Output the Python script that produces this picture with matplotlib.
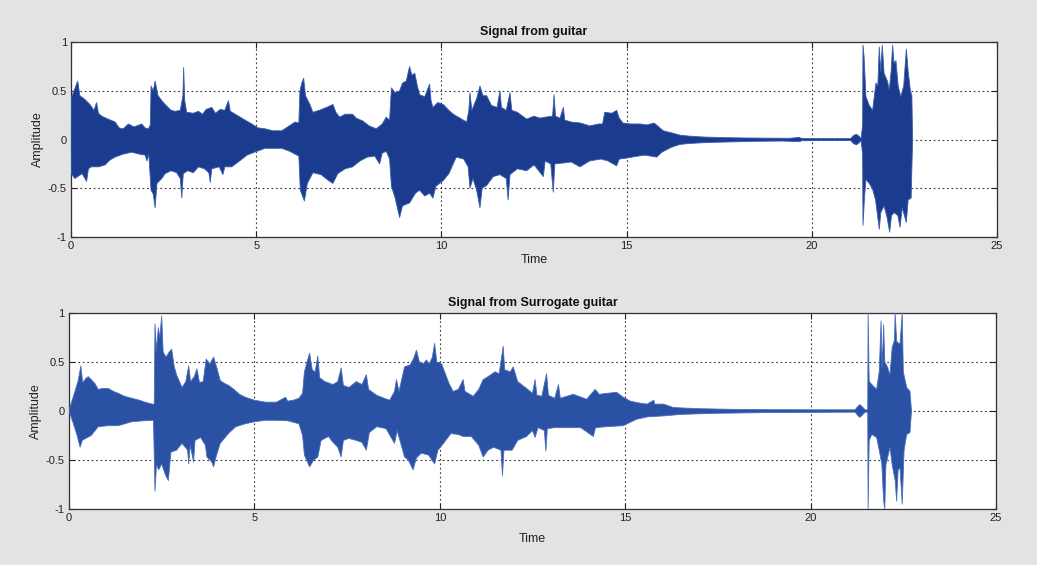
import numpy as np
import matplotlib
matplotlib.use("Agg")
import matplotlib.pyplot as plt

plt.rcParams['font.family'] = ['Liberation Sans', 'DejaVu Sans']

# Amplitude envelopes (time in s, amplitude) of the recorded guitar signal
guitar_upper = [
    (0.00, 0.00), (0.01, 0.43), (0.10, 0.52), (0.18, 0.60), (0.24, 0.45), (0.35, 0.42),
    (0.51, 0.36), (0.62, 0.30), (0.69, 0.38), (0.74, 0.27), (0.83, 0.24), (1.00, 0.21),
    (1.19, 0.18), (1.30, 0.12), (1.41, 0.11), (1.55, 0.16), (1.70, 0.13), (1.91, 0.16),
    (2.00, 0.12), (2.09, 0.11), (2.14, 0.15), (2.16, 0.55), (2.22, 0.50), (2.27, 0.60),
    (2.35, 0.45), (2.45, 0.40), (2.54, 0.36), (2.70, 0.30), (2.81, 0.29), (2.95, 0.30),
    (3.02, 0.45), (3.04, 0.74), (3.07, 0.40), (3.12, 0.28), (3.30, 0.27), (3.44, 0.29),
    (3.55, 0.26), (3.65, 0.31), (3.80, 0.33), (3.90, 0.27), (4.03, 0.31), (4.15, 0.30),
    (4.25, 0.40), (4.30, 0.29), (4.52, 0.24), (4.70, 0.20), (4.88, 0.16), (5.05, 0.12),
    (5.24, 0.11), (5.45, 0.09), (5.69, 0.09), (5.85, 0.13), (6.05, 0.18), (6.15, 0.17),
    (6.18, 0.50), (6.23, 0.58), (6.28, 0.63), (6.33, 0.45), (6.45, 0.36), (6.53, 0.28),
    (6.70, 0.30), (6.90, 0.33), (7.07, 0.36), (7.15, 0.28), (7.25, 0.23), (7.40, 0.26),
    (7.60, 0.26), (7.70, 0.22), (7.88, 0.19), (8.05, 0.14), (8.24, 0.11), (8.40, 0.16),
    (8.51, 0.23), (8.60, 0.20), (8.65, 0.53), (8.75, 0.48), (8.87, 0.50), (8.95, 0.58),
    (9.05, 0.60), (9.14, 0.75), (9.20, 0.66), (9.28, 0.68), (9.35, 0.55), (9.41, 0.46),
    (9.55, 0.44), (9.68, 0.57), (9.72, 0.40), (9.77, 0.33), (9.90, 0.38), (10.05, 0.36),
    (10.20, 0.30), (10.32, 0.26), (10.50, 0.22), (10.68, 0.18), (10.74, 0.30), (10.77, 0.48),
    (10.82, 0.30), (10.95, 0.42), (11.04, 0.55), (11.12, 0.45), (11.22, 0.45), (11.35, 0.35),
    (11.50, 0.33), (11.58, 0.50), (11.62, 0.33), (11.75, 0.30), (11.85, 0.48), (11.90, 0.30),
    (12.05, 0.28), (12.30, 0.21), (12.50, 0.24), (12.66, 0.22), (12.80, 0.23), (13.00, 0.24),
    (13.04, 0.46), (13.08, 0.24), (13.20, 0.22), (13.29, 0.33), (13.33, 0.20), (13.50, 0.18),
    (13.75, 0.17), (14.00, 0.14), (14.25, 0.16), (14.35, 0.16), (14.41, 0.28), (14.60, 0.27),
    (14.73, 0.30), (14.80, 0.22), (14.90, 0.17), (15.10, 0.16), (15.36, 0.16), (15.55, 0.15),
    (15.74, 0.17), (15.99, 0.09), (16.20, 0.07), (16.44, 0.045), (16.70, 0.035), (17.07, 0.026),
    (17.60, 0.020), (18.24, 0.016), (18.90, 0.014), (19.40, 0.013), (19.66, 0.022), (19.72, 0.012),
    (20.40, 0.010), (21.05, 0.010), (21.12, 0.040), (21.20, 0.055), (21.27, 0.035), (21.33, 0.012),
    (21.37, 0.15), (21.38, 0.97), (21.41, 0.85), (21.46, 0.44), (21.55, 0.35), (21.64, 0.30),
    (21.73, 0.58), (21.78, 0.55), (21.82, 0.95), (21.86, 0.70), (21.90, 0.97), (21.95, 0.68),
    (22.04, 0.60), (22.09, 0.51), (22.14, 0.70), (22.18, 0.97), (22.22, 0.78), (22.27, 0.81),
    (22.33, 0.55), (22.40, 0.44), (22.48, 0.55), (22.55, 0.93), (22.60, 0.70), (22.66, 0.50),
    (22.70, 0.45), (22.72, 0.00),
]
guitar_lower = [
    (0.00, 0.00), (0.01, -0.35), (0.10, -0.40), (0.30, -0.35), (0.42, -0.43), (0.47, -0.30),
    (0.55, -0.28), (0.75, -0.28), (0.92, -0.26), (1.05, -0.21), (1.19, -0.18), (1.40, -0.15),
    (1.64, -0.13), (1.85, -0.15), (2.00, -0.16), (2.05, -0.22), (2.10, -0.15), (2.16, -0.52),
    (2.22, -0.56), (2.27, -0.70), (2.32, -0.45), (2.45, -0.40), (2.54, -0.35), (2.70, -0.32),
    (2.85, -0.34), (2.95, -0.40), (2.99, -0.60), (3.03, -0.35), (3.15, -0.32), (3.30, -0.34),
    (3.44, -0.28), (3.60, -0.30), (3.72, -0.34), (3.76, -0.44), (3.80, -0.30), (4.00, -0.28),
    (4.10, -0.36), (4.15, -0.28), (4.34, -0.28), (4.55, -0.22), (4.75, -0.16), (4.95, -0.13),
    (5.24, -0.09), (5.45, -0.09), (5.69, -0.09), (5.90, -0.12), (6.05, -0.15), (6.15, -0.17),
    (6.19, -0.52), (6.25, -0.58), (6.30, -0.63), (6.38, -0.45), (6.53, -0.34), (6.75, -0.36),
    (6.95, -0.42), (7.07, -0.45), (7.20, -0.35), (7.40, -0.30), (7.60, -0.28), (7.80, -0.22),
    (8.00, -0.18), (8.20, -0.17), (8.33, -0.25), (8.40, -0.14), (8.51, -0.12), (8.60, -0.20),
    (8.65, -0.48), (8.75, -0.60), (8.87, -0.80), (8.95, -0.68), (9.14, -0.65), (9.30, -0.55),
    (9.41, -0.52), (9.55, -0.58), (9.68, -0.55), (9.77, -0.60), (9.85, -0.48), (10.05, -0.42),
    (10.20, -0.35), (10.40, -0.18), (10.60, -0.20), (10.72, -0.28), (10.77, -0.50), (10.85, -0.40),
    (10.95, -0.52), (11.04, -0.70), (11.10, -0.50), (11.22, -0.47), (11.40, -0.38), (11.58, -0.36),
    (11.75, -0.40), (11.80, -0.62), (11.85, -0.36), (12.05, -0.30), (12.30, -0.32), (12.50, -0.26),
    (12.75, -0.38), (12.80, -0.22), (12.95, -0.25), (13.02, -0.54), (13.06, -0.25), (13.30, -0.24),
    (13.50, -0.23), (13.74, -0.28), (14.00, -0.22), (14.30, -0.20), (14.50, -0.22), (14.73, -0.27),
    (14.80, -0.20), (15.00, -0.19), (15.30, -0.17), (15.50, -0.16), (15.81, -0.18), (15.95, -0.13),
    (16.20, -0.08), (16.44, -0.05), (16.70, -0.04), (17.20, -0.030), (17.80, -0.024), (18.50, -0.018),
    (19.20, -0.015), (19.66, -0.022), (19.72, -0.012), (20.40, -0.010), (21.05, -0.010), (21.12, -0.040),
    (21.20, -0.055), (21.27, -0.035), (21.33, -0.012), (21.37, -0.15), (21.38, -0.88), (21.42, -0.60),
    (21.46, -0.41), (21.55, -0.45), (21.64, -0.51), (21.72, -0.62), (21.82, -0.92), (21.86, -0.75),
    (21.95, -0.68), (22.03, -0.80), (22.10, -0.95), (22.15, -0.78), (22.22, -0.75), (22.32, -0.78),
    (22.38, -0.90), (22.44, -0.70), (22.55, -0.85), (22.60, -0.62), (22.68, -0.60), (22.72, 0.00),
]

# Amplitude envelopes of the surrogate guitar signal
surrogate_upper = [
    (0.00, 0.00), (0.03, 0.04), (0.12, 0.15), (0.25, 0.31), (0.32, 0.46), (0.37, 0.29),
    (0.45, 0.33), (0.52, 0.35), (0.60, 0.32), (0.70, 0.28), (0.79, 0.22), (0.90, 0.23),
    (1.06, 0.23), (1.20, 0.20), (1.33, 0.18), (1.50, 0.15), (1.69, 0.13), (1.90, 0.11),
    (2.05, 0.09), (2.25, 0.07), (2.30, 0.07), (2.32, 0.89), (2.36, 0.62), (2.41, 0.85),
    (2.45, 0.75), (2.50, 0.97), (2.54, 0.60), (2.62, 0.55), (2.70, 0.60), (2.77, 0.63),
    (2.84, 0.45), (2.91, 0.36), (3.05, 0.24), (3.15, 0.30), (3.23, 0.46), (3.28, 0.30),
    (3.38, 0.35), (3.45, 0.43), (3.52, 0.29), (3.62, 0.30), (3.70, 0.53), (3.80, 0.48),
    (3.90, 0.55), (3.98, 0.45), (4.08, 0.31), (4.20, 0.28), (4.31, 0.26), (4.45, 0.22),
    (4.60, 0.17), (4.76, 0.14), (5.00, 0.11), (5.30, 0.09), (5.60, 0.09), (5.84, 0.14),
    (5.90, 0.10), (6.05, 0.11), (6.20, 0.13), (6.30, 0.18), (6.35, 0.40), (6.42, 0.50),
    (6.49, 0.59), (6.56, 0.42), (6.64, 0.40), (6.71, 0.56), (6.76, 0.34), (6.90, 0.30),
    (7.12, 0.27), (7.25, 0.30), (7.34, 0.44), (7.40, 0.26), (7.55, 0.24), (7.75, 0.30),
    (7.90, 0.27), (8.02, 0.37), (8.08, 0.22), (8.30, 0.16), (8.50, 0.13), (8.65, 0.11),
    (8.78, 0.20), (8.83, 0.32), (8.90, 0.20), (9.05, 0.45), (9.20, 0.47), (9.30, 0.54),
    (9.37, 0.62), (9.45, 0.50), (9.55, 0.48), (9.64, 0.52), (9.72, 0.48), (9.80, 0.55),
    (9.86, 0.69), (9.92, 0.50), (10.05, 0.48), (10.14, 0.39), (10.25, 0.28), (10.36, 0.20),
    (10.50, 0.22), (10.63, 0.32), (10.68, 0.20), (10.90, 0.15), (11.05, 0.22), (11.17, 0.32),
    (11.30, 0.35), (11.49, 0.40), (11.60, 0.38), (11.71, 0.66), (11.75, 0.42), (11.90, 0.40),
    (11.98, 0.45), (12.10, 0.30), (12.34, 0.23), (12.50, 0.18), (12.57, 0.32), (12.62, 0.16),
    (12.75, 0.15), (12.88, 0.38), (12.93, 0.16), (13.10, 0.13), (13.20, 0.27), (13.25, 0.13),
    (13.60, 0.17), (13.96, 0.12), (14.19, 0.22), (14.30, 0.17), (14.50, 0.18), (14.77, 0.19),
    (14.95, 0.14), (15.14, 0.10), (15.40, 0.08), (15.59, 0.07), (15.77, 0.11), (15.80, 0.07),
    (16.04, 0.07), (16.30, 0.035), (16.94, 0.024), (17.84, 0.017), (19.00, 0.013), (20.50, 0.012),
    (21.20, 0.012), (21.28, 0.050), (21.33, 0.065), (21.40, 0.040), (21.47, 0.012), (21.54, 0.012),
    (21.55, 1.00), (21.58, 0.30), (21.65, 0.27), (21.78, 0.22), (21.85, 0.40), (21.90, 0.92),
    (21.93, 0.44), (21.97, 0.88), (22.00, 0.50), (22.07, 0.45), (22.14, 0.37), (22.20, 0.65),
    (22.26, 0.72), (22.28, 1.00), (22.32, 0.71), (22.41, 0.68), (22.47, 1.00), (22.50, 0.40),
    (22.59, 0.24), (22.68, 0.20), (22.72, 0.00),
]
surrogate_lower = [
    (0.00, 0.00), (0.03, -0.03), (0.12, -0.13), (0.22, -0.25), (0.30, -0.37), (0.36, -0.30),
    (0.45, -0.28), (0.60, -0.25), (0.79, -0.16), (1.06, -0.15), (1.33, -0.15), (1.69, -0.11),
    (2.00, -0.10), (2.28, -0.095), (2.32, -0.82), (2.36, -0.55), (2.42, -0.60), (2.50, -0.54),
    (2.60, -0.65), (2.68, -0.71), (2.75, -0.42), (2.90, -0.40), (3.05, -0.33), (3.20, -0.40),
    (3.23, -0.54), (3.27, -0.35), (3.36, -0.52), (3.40, -0.30), (3.55, -0.27), (3.68, -0.35),
    (3.72, -0.47), (3.85, -0.52), (3.90, -0.57), (3.98, -0.45), (4.08, -0.33), (4.30, -0.23),
    (4.50, -0.16), (4.76, -0.13), (5.00, -0.11), (5.30, -0.095), (5.60, -0.095), (5.90, -0.10),
    (6.20, -0.13), (6.30, -0.25), (6.35, -0.45), (6.49, -0.57), (6.60, -0.50), (6.71, -0.47),
    (6.80, -0.30), (7.00, -0.26), (7.12, -0.32), (7.25, -0.37), (7.34, -0.47), (7.40, -0.30),
    (7.55, -0.28), (7.75, -0.30), (7.90, -0.32), (8.02, -0.40), (8.10, -0.22), (8.30, -0.16),
    (8.55, -0.18), (8.78, -0.33), (8.85, -0.20), (9.00, -0.40), (9.05, -0.47), (9.15, -0.50),
    (9.28, -0.60), (9.37, -0.48), (9.50, -0.43), (9.70, -0.45), (9.86, -0.54), (9.95, -0.40),
    (10.10, -0.33), (10.30, -0.23), (10.50, -0.24), (10.63, -0.26), (10.85, -0.26), (11.05, -0.35),
    (11.17, -0.47), (11.30, -0.40), (11.45, -0.37), (11.65, -0.40), (11.69, -0.66), (11.73, -0.40),
    (11.95, -0.40), (12.10, -0.30), (12.34, -0.26), (12.50, -0.20), (12.57, -0.27), (12.65, -0.17),
    (12.82, -0.20), (12.86, -0.41), (12.90, -0.18), (13.10, -0.17), (13.50, -0.17), (13.80, -0.17),
    (14.14, -0.26), (14.20, -0.17), (14.50, -0.16), (14.95, -0.15), (15.30, -0.085), (15.60, -0.06),
    (16.04, -0.05), (16.50, -0.035), (17.40, -0.024), (18.70, -0.017), (20.00, -0.014), (21.20, -0.012),
    (21.28, -0.050), (21.33, -0.065), (21.40, -0.040), (21.47, -0.012), (21.54, -0.012), (21.55, -1.00),
    (21.58, -0.30), (21.65, -0.24), (21.78, -0.27), (21.85, -0.40), (21.92, -0.54), (21.97, -0.92),
    (22.00, -1.00), (22.03, -0.55), (22.14, -0.37), (22.20, -0.55), (22.28, -0.71), (22.32, -0.92),
    (22.36, -0.60), (22.41, -0.58), (22.47, -0.95), (22.52, -0.40), (22.59, -0.24), (22.68, -0.22),
    (22.72, 0.00),
]

titles = ["Signal from guitar", "Signal from Surrogate guitar"]
x_ticks = [0, 5, 10, 15, 20, 25]
y_ticks = [-1, -0.5, 0, 0.5, 1]
y_tick_labels = ["-1", "-0.5", "0", "0.5", "1"]

BG = "#e3e3e3"
fig = plt.figure(figsize=(10.37, 5.65), dpi=100, facecolor=BG)

panels = [
    (fig.add_axes([0.0685, 0.5805, 0.893, 0.345]), guitar_upper, guitar_lower,
     "#1b3c8e", "#3a5fae", 2),
    (fig.add_axes([0.0665, 0.0991, 0.894, 0.347]), surrogate_upper, surrogate_lower,
     "#2a51a3", "#4a6fbb", 7),
]

for (ax, upper, lower, fill_col, edge_col, xpad), title in zip(panels, titles):
    ut, ua = zip(*upper)
    lt, la = zip(*lower)
    xs = np.concatenate([ut, lt[::-1]])
    ys = np.concatenate([ua, la[::-1]])
    ax.fill(xs, ys, color=fill_col, lw=0, zorder=3)
    ax.plot(ut, ua, color=edge_col, lw=0.6, zorder=3)
    ax.plot(lt, la, color=edge_col, lw=0.6, zorder=3)

    ax.set_xlim(0, 25)
    ax.set_ylim(-1, 1)
    ax.set_xticks(x_ticks)
    ax.set_xticklabels([str(v) for v in x_ticks])
    ax.set_yticks(y_ticks)
    ax.set_yticklabels(y_tick_labels)
    ax.set_facecolor("white")
    ax.grid(True, color="#333333", linestyle=(0, (1.5, 2.5)), linewidth=0.8, zorder=1)
    ax.tick_params(direction="in", length=4, width=0.8, top=True, right=True,
                   labelsize=8, colors="#222222", pad=3)
    for s in ax.spines.values():
        s.set_color("#333333")
        s.set_linewidth(0.9)
    ax.set_title(title, fontsize=9, fontweight="bold", pad=5, color="#111111")
    ax.set_xlabel("Time", fontsize=9, labelpad=xpad, color="#222222")
    ax.set_ylabel("Amplitude", fontsize=9, labelpad=3, color="#222222")

fig.savefig("out.png", dpi=100, facecolor=BG)
